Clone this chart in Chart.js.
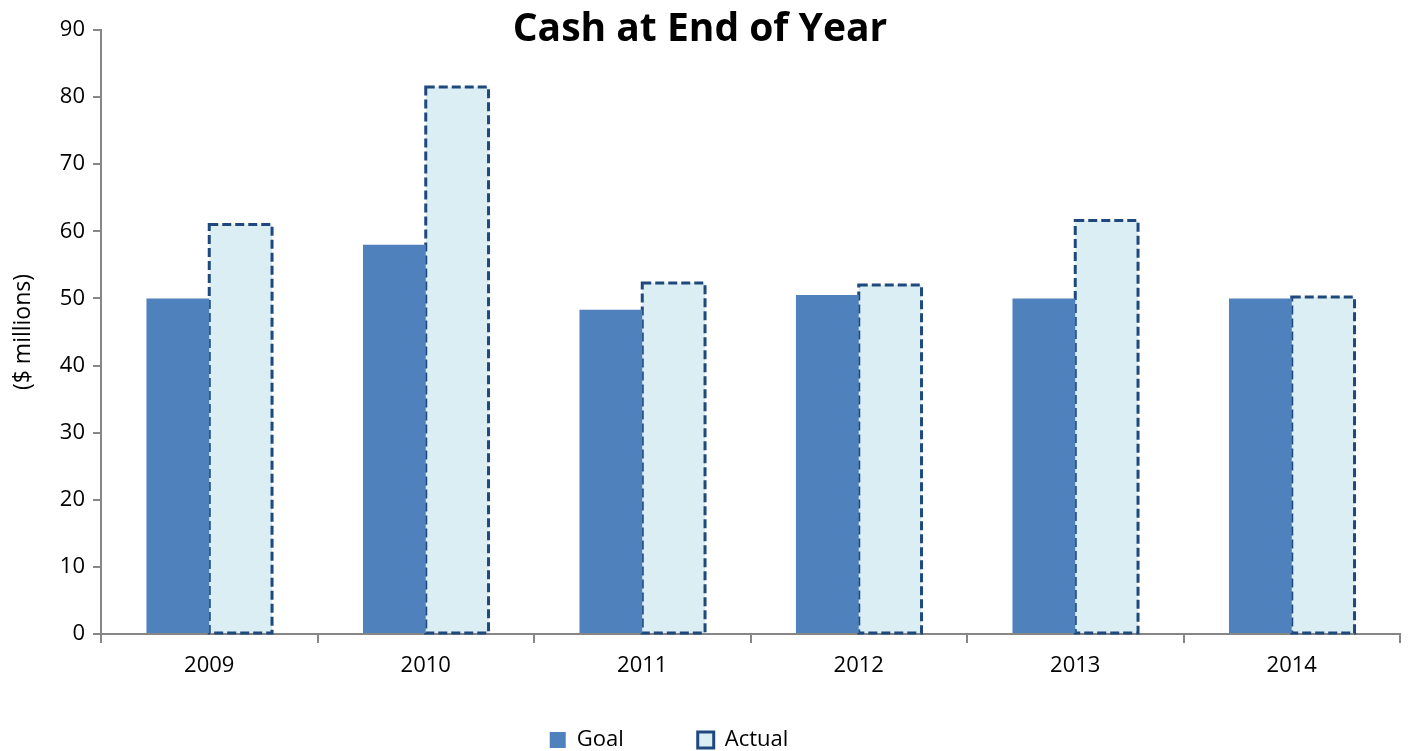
<!DOCTYPE html>
<html>
<head>
<meta charset="utf-8">
<script src="https://cdn.jsdelivr.net/npm/chart.js@4/dist/chart.umd.min.js"></script>
<style>
  html, body { margin: 0; padding: 0; background: #fff; }
  #wrap { width: 1413px; height: 751px; }
</style>
</head>
<body>
<div id="wrap"><canvas id="cash_chart" width="1413" height="751"></canvas></div>
<script>
var years = ['2009', '2010', '2011', '2012', '2013', '2014'];
var goal = [50, 58, 48.3, 50.5, 50, 50];
var actual = [61, 81.5, 52.3, 52, 61.6, 50.2];
var yTicks = [0, 10, 20, 30, 40, 50, 60, 70, 80, 90];

var fontFam = "'Open Sans', 'Liberation Sans', sans-serif";
var dashColor = '#1F497D';

// title sits over the plot area, so draw it by hand
var titlePlugin = {
    id: 'titleOver',
    afterDraw: function(chart) {
        var c = chart.ctx;
        c.save();
        c.font = "bold 39px " + fontFam;
        c.fillStyle = '#000';
        c.textAlign = 'center';
        c.textBaseline = 'middle';
        c.fillText('Cash at End of Year', 700, 30);
        c.restore();
    }
};

// bars in v4 have no borderDash, stroke the dashed outline ourselves
var dashPlugin = {
    id: 'dashBars',
    afterDatasetDraw: function(chart, args) {
        if (args.index !== 1) return;
        var c = chart.ctx;
        c.save();
        c.strokeStyle = dashColor;
        c.lineWidth = 3;
        c.setLineDash([9, 4]);
        args.meta.data.forEach(function(bar) {
            var p = bar.getProps(['x', 'y', 'base', 'width'], true);
            c.strokeRect(p.x - p.width / 2, p.y, p.width, p.base - p.y);
        });
        c.restore();
    }
};

// legend: wide gaps between items but short box, and a bit left of centre
var legendFix = {
    id: 'legendFix',
    beforeLayout: function(chart) {
        var lg = chart.legend;
        if (!lg || lg._fitWrapped) return;
        var orig = lg.fit;
        lg.fit = function() {
            orig.call(this);
            this.height = 70;
        };
        lg._fitWrapped = true;
    },
    afterLayout: function(chart) {
        var lg = chart.legend;
        lg.left -= 36;
        lg.right -= 36;
        lg.top -= 26;
    }
};

var ctx = document.getElementById("cash_chart").getContext("2d");
var cashChart = new Chart(ctx, {
    type: 'bar',
    data: {
        labels: years,
        datasets: [{
            label: 'Goal',
            data: goal,
            backgroundColor: '#4F81BD',
            borderWidth: 0
        }, {
            label: 'Actual',
            data: actual,
            backgroundColor: '#DAEEF3',
            borderColor: dashColor,
            borderWidth: 0
        }]
    },
    plugins: [titlePlugin, dashPlugin, legendFix],
    options: {
        responsive: false,
        animation: false,
        layout: { padding: { left: 10, right: 13, top: 30, bottom: 0 } },
        datasets: { bar: { barPercentage: 1, categoryPercentage: 0.58 } },
        plugins: {
            title: { display: false },
            tooltip: { enabled: false },
            legend: {
                position: 'bottom',
                labels: {
                    color: '#000',
                    font: { family: fontFam, size: 22 },
                    boxWidth: 16,
                    boxHeight: 16,
                    padding: 74,
                    generateLabels: function(chart) {
                        return chart.data.datasets.map(function(ds, i) {
                            return {
                                text: ds.label,
                                fillStyle: ds.backgroundColor,
                                strokeStyle: i === 1 ? dashColor : ds.backgroundColor,
                                lineWidth: i === 1 ? 3 : 0,
                                fontColor: '#000',
                                datasetIndex: i
                            };
                        });
                    }
                }
            }
        },
        scales: {
            x: {
                grid: { display: true, drawOnChartArea: false, offset: true, tickLength: 9, color: '#868686', lineWidth: 2 },
                border: { color: '#868686', width: 2 },
                ticks: { color: '#000', font: { family: fontFam, size: 22 }, padding: 10 },
                afterFit: function(scale) { scale.height = 47; }
            },
            y: {
                min: 0,
                max: 90,
                afterBuildTicks: function(scale) {
                    scale.ticks = yTicks.map(function(v) { return { value: v }; });
                },
                grid: { display: true, drawOnChartArea: false, tickLength: 8, color: '#868686', lineWidth: 2 },
                border: { color: '#868686', width: 2 },
                ticks: { color: '#000', font: { family: fontFam, size: 22 }, padding: 8 },
                title: { display: true, text: '($ millions)', color: '#000', font: { family: fontFam, size: 23 }, padding: 0 },
                afterFit: function(scale) { scale.width = 91; }
            }
        }
    }
});
</script>
</body>
</html>
